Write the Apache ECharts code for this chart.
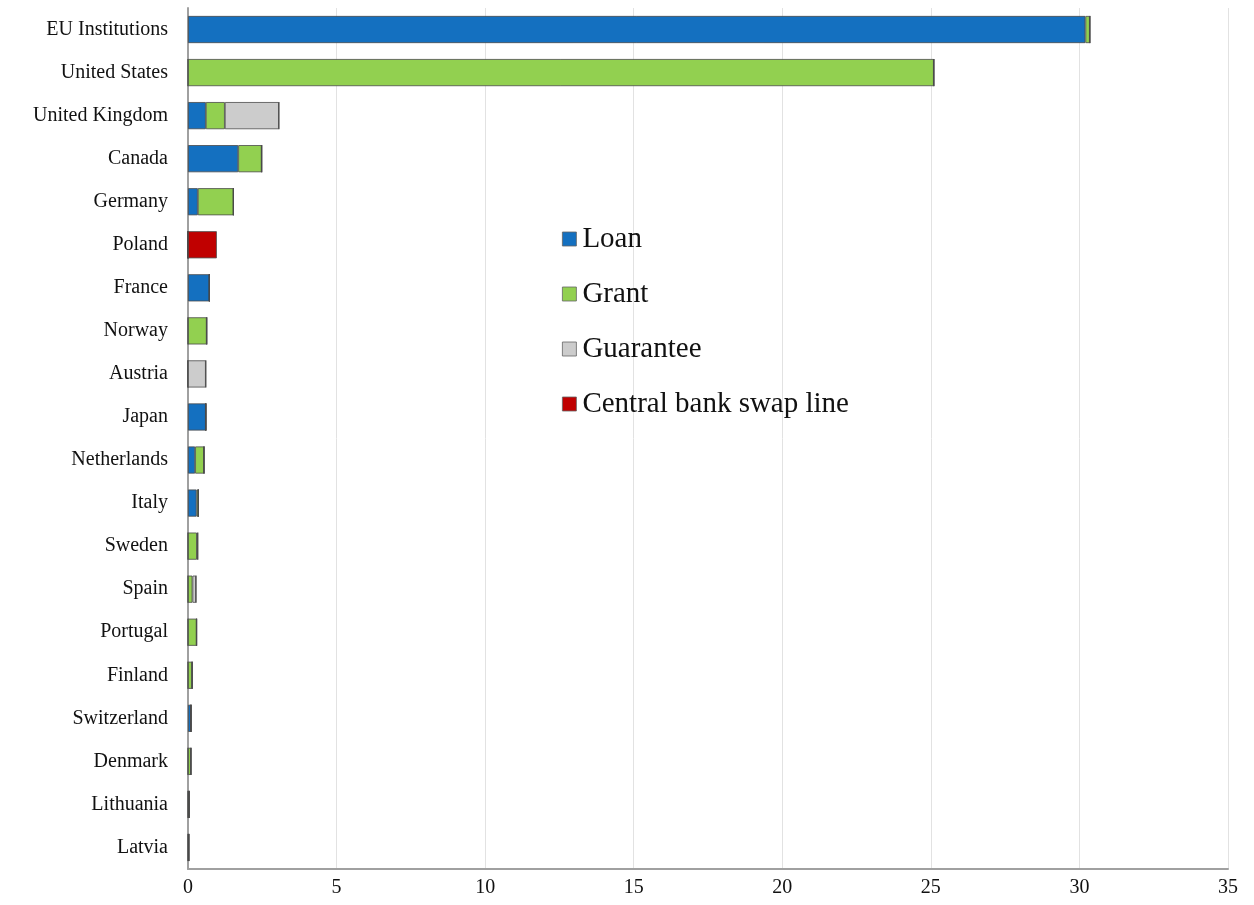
<!DOCTYPE html>
<html>
<head>
<meta charset="utf-8">
<script src="https://cdn.jsdelivr.net/npm/echarts@6/dist/echarts.min.js"></script>
<style>
html,body{margin:0;padding:0;background:#fff;}
#chart{width:1254px;height:905px;}
</style>
</head>
<body>
<div id="chart"></div>
<script>
const categories = ["EU Institutions","United States","United Kingdom","Canada","Germany","Poland","France","Norway","Austria","Japan","Netherlands","Italy","Sweden","Spain","Portugal","Finland","Switzerland","Denmark","Lithuania","Latvia"];
const loan      = [30.2, 0,    0.6,  1.69, 0.33, 0,    0.72, 0,    0,    0.6, 0.24, 0.29, 0,    0,    0,    0,    0.1, 0,    0,    0];
const grant     = [0.15, 25.1, 0.64, 0.79, 1.2,  0,    0,    0.63, 0,    0,   0.3,  0.06, 0.3,  0.15, 0.29, 0.14, 0,   0.1,  0.04, 0.03];
const guarantee = [0,    0,    1.82, 0,    0,    0,    0,    0,    0.6,  0,   0,    0,    0.03, 0.12, 0,    0,    0,   0,    0,    0];
const swapLine  = [0,    0,    0,    0,    0,    0.97, 0,    0,    0,    0,   0,    0,    0,    0,    0,    0,    0,   0,    0,    0];
const xTicks = [0,5,10,15,20,25,30,35];

const font = '"Liberation Serif", "Times New Roman", serif';
const chart = echarts.init(document.getElementById('chart'));
function ser(name, data, color){
  return {
    name: name, type: 'bar', stack: 'total', data: data,
    barCategoryGap: '37%',
    itemStyle: { color: color, borderColor: '#4a4a4a', borderWidth: 0.8 }
  };
}
chart.setOption({
  animation: false,
  backgroundColor: '#fff',
  grid: { left: 188, right: 26, top: 8, bottom: 36 },
  legend: {
    orient: 'vertical', left: 557, top: 219,
    icon: 'rect', itemWidth: 14, itemHeight: 14, itemGap: 25,
    textStyle: { fontFamily: font, fontSize: 29, color: '#111', lineHeight: 30, padding: [0,0,0,1] },
    itemStyle: { borderColor: '#666', borderWidth: 0.8 }
  },
  xAxis: {
    type: 'value', min: xTicks[0], max: xTicks[xTicks.length-1], interval: 5,
    axisLine: { show: true, lineStyle: { color: '#a0a0a0', width: 2 } },
    axisTick: { show: false },
    splitLine: { show: true, lineStyle: { color: '#e2e2e2', width: 1 } },
    axisLabel: { fontFamily: font, fontSize: 20, color: '#111', margin: 9 }
  },
  yAxis: {
    type: 'category', data: categories, inverse: true,
    axisLine: { show: true, lineStyle: { color: '#a0a0a0', width: 2 } },
    axisTick: { show: false },
    axisLabel: { fontFamily: font, fontSize: 20, color: '#111', margin: 20 }
  },
  series: [
    ser('Loan', loan, '#1470c0'),
    ser('Grant', grant, '#92d050'),
    ser('Guarantee', guarantee, '#cccccc'),
    ser('Central bank swap line', swapLine, '#c00000')
  ]
});
</script>
</body>
</html>
